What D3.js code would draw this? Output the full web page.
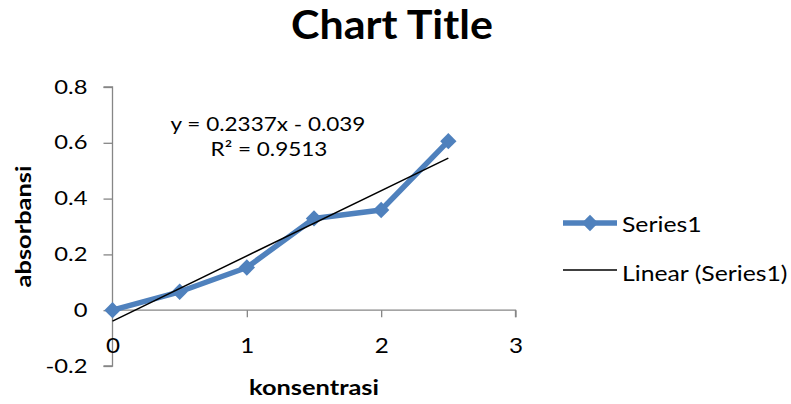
<!DOCTYPE html>
<html>
<head>
<meta charset="utf-8">
<script src="https://cdn.jsdelivr.net/npm/d3@7"></script>
<style>
  html, body { margin: 0; padding: 0; background: #fff; }
  svg { display: block; font-family: Lato, "Open Sans", sans-serif; }
</style>
</head>
<body>
<svg id="chart" width="791" height="404"></svg>
<script>
// Absorbance measured at each concentration
const concentrations = [0, 0.5, 1, 1.5, 2, 2.5];
const absorbance = [0, 0.066, 0.153, 0.329, 0.359, 0.606];

// Linear trendline fitted to the series
const trendSlope = 0.2337;
const trendIntercept = -0.039;
const trendR2 = 0.9513;

const xTicks = [0, 1, 2, 3];
const yTicks = [-0.2, 0, 0.2, 0.4, 0.6, 0.8];

const seriesName = "Series1";
const trendName = "Linear (Series1)";
const chartTitle = "Chart Title";
const xTitle = "konsentrasi";
const yTitle = "absorbansi";

const svg = d3.select("#chart");
const blue = "#4F81BD";
const axisGrey = "#868686";

const x = d3.scaleLinear().domain([0, 3]).range([112.5, 515.5]);
const y = d3.scaleLinear().domain([-0.2, 0.8]).range([366, 87]);

// Widen text horizontally around its own anchor point
function widen(sel, s, extra = "") {
  sel.each(function () {
    const t = d3.select(this);
    const tx = +t.attr("x") || 0, ty = +t.attr("y") || 0;
    t.attr("x", 0).attr("y", 0)
      .attr("transform", `translate(${tx},${ty}) ${extra} scale(${s},1)`);
  });
}

// Title
svg.append("text")
  .attr("x", 392).attr("y", 39)
  .attr("text-anchor", "middle")
  .attr("font-size", 40).attr("font-weight", "bold")
  .text(chartTitle)
  .call(widen, 1.075);

// Y axis on the left edge of the plot
const yAxis = svg.append("g")
  .attr("transform", `translate(${x(0)},0)`)
  .call(d3.axisLeft(y).tickValues(yTicks).tickSize(9).tickPadding(16)
    .tickFormat(d => d === 0 ? "0" : d3.format(".1f")(d).replace("\u2212", "-")));
yAxis.select(".domain").attr("stroke", axisGrey).attr("stroke-width", 1.3)
  .attr("d", `M-9,${y(0.8)}H0V${y(-0.2)}H-9`);
yAxis.selectAll(".tick line").attr("stroke", axisGrey).attr("stroke-width", 1.3);
yAxis.selectAll(".tick text").attr("font-size", 19).attr("fill", "#000")
  .attr("font-family", "Lato, sans-serif")
  .call(widen, 1.25);

// X axis crossing at y = 0
const xAxis = svg.append("g")
  .attr("transform", `translate(0,${y(0)})`)
  .call(d3.axisBottom(x).tickValues(xTicks).tickSize(7).tickPadding(20)
    .tickFormat(d3.format("d")));
xAxis.select(".domain").attr("stroke", axisGrey).attr("stroke-width", 1.3)
  .attr("d", `M${x(0)},0H${x(3)}V7`);
xAxis.selectAll(".tick line").attr("stroke", axisGrey).attr("stroke-width", 1.3);
xAxis.selectAll(".tick text").attr("font-size", 22).attr("fill", "#000")
  .attr("font-family", "Lato, sans-serif")
  .call(widen, 1.1);

// Axis titles
svg.append("text")
  .attr("x", x(1.5)).attr("y", 395)
  .attr("text-anchor", "middle")
  .attr("font-size", 20).attr("font-weight", "bold")
  .text(xTitle)
  .call(widen, 1.27);
svg.append("text")
  .attr("x", 31).attr("y", (y(0.8) + y(-0.2)) / 2)
  .attr("text-anchor", "middle")
  .attr("font-size", 20).attr("font-weight", "bold")
  .text(yTitle)
  .call(widen, 1.27, "rotate(-90)");

const points = concentrations.map((c, i) => [c, absorbance[i]]);

// Data series line
svg.append("path")
  .datum(points)
  .attr("fill", "none")
  .attr("stroke", blue)
  .attr("stroke-width", 5.5)
  .attr("stroke-linejoin", "round")
  .attr("d", d3.line().x(d => x(d[0])).y(d => y(d[1])));

// Diamond markers
const diamond = d3.symbol().type(d3.symbolDiamond2).size(170);
svg.append("g").selectAll("path")
  .data(points)
  .join("path")
  .attr("transform", d => `translate(${x(d[0])},${y(d[1])})`)
  .attr("d", diamond)
  .attr("fill", blue);

// Trendline over the data range
const xMin = d3.min(concentrations), xMax = d3.max(concentrations);
svg.append("line")
  .attr("x1", x(xMin)).attr("y1", y(trendSlope * xMin + trendIntercept))
  .attr("x2", x(xMax)).attr("y2", y(trendSlope * xMax + trendIntercept))
  .attr("stroke", "#000").attr("stroke-width", 1.5);

// Trendline equation and R²
svg.append("text")
  .attr("x", 268).attr("y", 131).attr("text-anchor", "middle")
  .attr("font-size", 19)
  .text(`y = ${trendSlope}x - ${Math.abs(trendIntercept)}`)
  .call(widen, 1.185);
svg.append("text")
  .attr("x", 269).attr("y", 155.5).attr("text-anchor", "middle")
  .attr("font-size", 19)
  .text(`R² = ${trendR2}`)
  .call(widen, 1.185);

// Legend
const lg = svg.append("g");
lg.append("line").attr("x1", 563).attr("x2", 617).attr("y1", 223).attr("y2", 223)
  .attr("stroke", blue).attr("stroke-width", 5.5);
lg.append("path").attr("transform", "translate(590,223)").attr("d", diamond).attr("fill", blue);
lg.append("text").attr("x", 622).attr("y", 231.5).attr("font-size", 21).text(seriesName)
  .call(widen, 1.18);
lg.append("line").attr("x1", 563).attr("x2", 617).attr("y1", 270).attr("y2", 270)
  .attr("stroke", "#000").attr("stroke-width", 1.3);
lg.append("text").attr("x", 622).attr("y", 280.5).attr("font-size", 21).text(trendName)
  .call(widen, 1.18);
</script>
</body>
</html>
